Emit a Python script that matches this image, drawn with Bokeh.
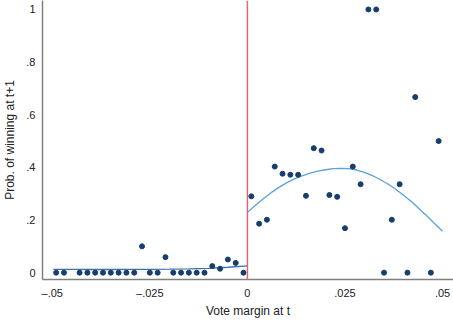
from bokeh.plotting import figure
from bokeh.models import Range1d, Span, FixedTicker
from bokeh.embed import file_html
from bokeh.resources import INLINE

# Binned scatter (left of cutoff)
left_x = [-0.049, -0.047, -0.043, -0.041, -0.039, -0.037, -0.035, -0.033, -0.031,
          -0.029, -0.027, -0.025, -0.023, -0.021, -0.019, -0.017, -0.015, -0.013,
          -0.011, -0.009, -0.007, -0.005, -0.003, -0.001]
left_y = [0, 0, 0, 0, 0, 0, 0, 0, 0,
          0, 0.100, 0, 0, 0.059, 0, 0, 0, 0,
          0, 0.025, 0.015, 0.050, 0.037, 0]

# Binned scatter (right of cutoff)
right_x = [0.001, 0.003, 0.005, 0.007, 0.009, 0.011, 0.013, 0.015, 0.017, 0.019,
           0.021, 0.023, 0.025, 0.027, 0.029, 0.031, 0.033, 0.035, 0.037, 0.039,
           0.041, 0.043, 0.047, 0.049]
right_y = [0.290, 0.186, 0.201, 0.403, 0.376, 0.372, 0.372, 0.292, 0.473, 0.464,
           0.295, 0.288, 0.169, 0.403, 0.336, 1.0, 1.0, 0, 0.201, 0.336,
           0, 0.667, 0, 0.500]

# Fitted curves
fitL_x = [-0.0497, -0.045, -0.040, -0.035, -0.030, -0.025, -0.020, -0.015, -0.010, -0.005, 0.0]
fitL_y = [0.0125, 0.0122, 0.0120, 0.0120, 0.0121, 0.0125, 0.0133, 0.0145, 0.0165, 0.0205, 0.0260]
fitR_x = [0.0, 0.0020, 0.0040, 0.0060, 0.0080, 0.0100, 0.0120, 0.0140, 0.0160, 0.0180,
          0.0200, 0.0220, 0.0240, 0.0260, 0.0280, 0.0300, 0.0320, 0.0340, 0.0360,
          0.0380, 0.0400, 0.0420, 0.0440, 0.0460, 0.0480, 0.0500]
fitR_y = [0.229, 0.255, 0.280, 0.303, 0.323, 0.341, 0.356, 0.368, 0.378, 0.386,
          0.391, 0.395, 0.396, 0.395, 0.390, 0.381, 0.369, 0.354, 0.337,
          0.317, 0.294, 0.270, 0.243, 0.215, 0.186, 0.157]

x_ticks = [-0.05, -0.025, 0, 0.025, 0.05]
x_labels = ["\u2013.05", "\u2013.025", "0", ".025", ".05"]
y_ticks = [0, 0.2, 0.4, 0.6, 0.8, 1.0]
y_labels = ["0", ".2", ".4", ".6", ".8", "1"]

FONT = "Liberation Sans"

p = figure(width=453, height=320, output_backend="svg", toolbar_location=None,
           x_range=Range1d(-0.0525, 0.0528), y_range=Range1d(-0.026, 1.034),
           min_border_left=0, min_border_bottom=0, min_border_top=0, min_border_right=0)
p.outline_line_color = None
p.grid.visible = False
p.background_fill_color = "white"
p.border_fill_color = "white"

p.line(fitL_x, fitL_y, line_color="#3f72ad", line_width=1.3)
p.line(fitR_x, fitR_y, line_color="#5aa2d8", line_width=1.3)
p.add_layout(Span(location=0, dimension="height", line_color="#d46a76", line_width=1.5))
p.scatter(left_x, left_y, size=5, color="#153e6e")
p.scatter(right_x, right_y, size=5, color="#153e6e")

for ax in (p.xaxis[0], p.yaxis[0]):
    ax.axis_line_color = "#808080"
    ax.axis_line_width = 1.5
    ax.major_tick_line_color = None
    ax.minor_tick_line_color = None
    ax.major_tick_out = 0
    ax.major_tick_in = 0
    ax.minor_tick_out = 0
    ax.minor_tick_in = 0
    ax.major_label_text_font = FONT
    ax.major_label_text_font_size = "11px"
    ax.major_label_text_color = "#222222"
    ax.axis_label_text_font = FONT
    ax.axis_label_text_font_size = "12px"
    ax.axis_label_text_font_style = "normal"
    ax.axis_label_text_color = "#222222"

p.xaxis.ticker = FixedTicker(ticks=x_ticks)
p.xaxis.major_label_overrides = {t: l for t, l in zip(x_ticks, x_labels)}
p.yaxis.ticker = FixedTicker(ticks=y_ticks)
p.yaxis.major_label_overrides = {t: l for t, l in zip(y_ticks, y_labels)}
p.xaxis.axis_label = "Vote margin at t"
p.yaxis.axis_label = "Prob. of winning at t+1"
p.xaxis.major_label_standoff = 7
p.yaxis.major_label_standoff = 7
p.xaxis.axis_label_standoff = 2
p.yaxis.axis_label_standoff = 6

open("out.html", "w").write(file_html(p, INLINE))
